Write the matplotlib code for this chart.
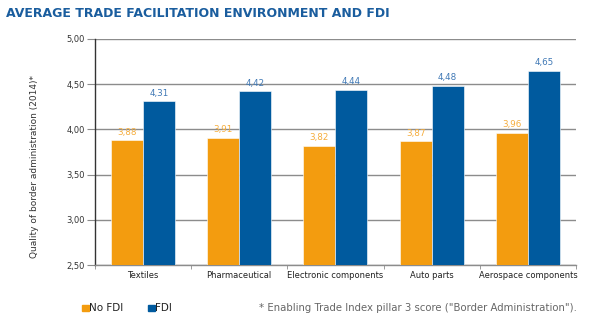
import matplotlib
matplotlib.use("Agg")
import matplotlib.pyplot as plt
import numpy as np

categories = ["Textiles", "Pharmaceutical", "Electronic components", "Auto parts", "Aerospace components"]
no_fdi = [3.88, 3.91, 3.82, 3.87, 3.96]
fdi = [4.31, 4.42, 4.44, 4.48, 4.65]
yticks = [2.50, 3.00, 3.50, 4.00, 4.50, 5.00]

ORANGE = "#f39c0f"
BLUE = "#005a9e"
ORANGE_TXT = "#f5ad3d"
BLUE_TXT = "#3f78b5"

plt.rcParams['font.family'] = ['DejaVu Sans']
fig = plt.figure(figsize=(6, 3.22), dpi=100)
ax = fig.add_axes([0.158, 0.177, 0.802, 0.702])

x = np.arange(len(categories))
w = 1/3
ax.bar(x - w/2, no_fdi, w, color=ORANGE, zorder=3, edgecolor="white", linewidth=0.4)
ax.bar(x + w/2, fdi, w, color=BLUE, zorder=3, edgecolor="white", linewidth=0.4)

fmt = lambda v: f"{v:.2f}".replace(".", ",")
for xi, v in zip(x, no_fdi):
    ax.text(xi - w/2, v + 0.04, fmt(v), ha="center", va="bottom", fontsize=6.3, color=ORANGE_TXT)
for xi, v in zip(x, fdi):
    ax.text(xi + w/2, v + 0.04, fmt(v), ha="center", va="bottom", fontsize=6.3, color=BLUE_TXT)

ax.set_ylim(2.5, 5.0)
ax.set_xlim(-0.5, len(categories) - 0.5)
ax.set_yticks(yticks)
ax.set_yticklabels([fmt(t) for t in yticks], fontsize=6, color="#333333")
ax.yaxis.grid(True, color="#8c8c8c", linewidth=1.0, zorder=0)
ax.set_axisbelow(True)

ax.set_xticks(x)
ax.set_xticklabels(categories, fontsize=6, color="#222222")
ax.tick_params(axis="x", length=0, pad=4)
ax.set_xticks(np.arange(len(categories) + 1) - 0.5, minor=True)
ax.tick_params(axis="x", which="minor", length=3, color="#8c8c8c")
ax.tick_params(axis="y", length=6, color="#8c8c8c", pad=1)

for s in ["top", "right"]:
    ax.spines[s].set_visible(False)
ax.spines["left"].set_color("#333333")
ax.spines["left"].set_linewidth(1.0)
ax.spines["bottom"].set_color("#8c8c8c")
ax.spines["bottom"].set_linewidth(1.0)

fig.text(0.058, 1 - 166/322, "Quality of border administration (2014)*", fontsize=6.5,
         color="#333333", rotation=90, ha="center", va="center")

fig.text(0.01, 0.958, "AVERAGE TRADE FACILITATION ENVIRONMENT AND FDI", fontsize=9,
         fontweight="bold", color="#1a5d9e", va="center", ha="left")

# legend
fig.patches.append(plt.Rectangle((0.137, 0.034), 0.011, 0.02, transform=fig.transFigure, color=ORANGE))
fig.text(0.149, 0.044, "No FDI", fontsize=7.5, color="#222222", va="center")
fig.patches.append(plt.Rectangle((0.247, 0.034), 0.011, 0.02, transform=fig.transFigure, color=BLUE))
fig.text(0.259, 0.044, "FDI", fontsize=7.5, color="#222222", va="center")
fig.text(0.432, 0.044, "* Enabling Trade Index pillar 3 score (\"Border Administration\").",
         fontsize=7.3, color="#666666", va="center")

fig.savefig("out.png", dpi=100)
